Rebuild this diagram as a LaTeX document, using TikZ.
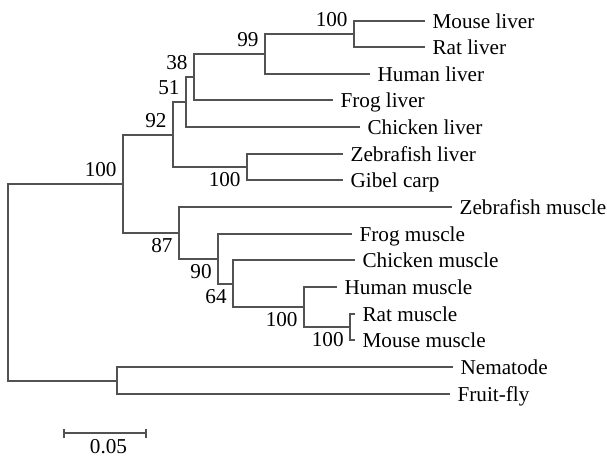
\documentclass[tikz,border=0pt]{standalone}
\usepackage{fontspec}
\setmainfont{Liberation Serif}
\usetikzlibrary{arrows.meta}
\tikzset{
    branch/.style={draw=black!68, line width=1pt},
    leaf/.style={anchor=west, inner xsep=3.6pt, inner ysep=0pt, text height=7pt, text depth=0pt, font=\fontsize{10.6}{12}\selectfont},
    bootup/.style={anchor=south east, inner xsep=3pt, inner ysep=3.5pt, font=\fontsize{10.6}{12}\selectfont},
    bootdown/.style={anchor=north east, inner xsep=3pt, inner ysep=2.5pt, font=\fontsize{10.6}{12}\selectfont},
    scalebar/.style={draw=black!68, line width=1pt, {Bar[width=4.5pt]}-{Bar[width=4.5pt]}},
    }

\begin{document}
\begin{tikzpicture}[x=0.5pt, y=-0.5pt]
    \useasboundingbox (0,0) rectangle (607,457);

    % inner nodes
    \coordinate (root) at (8,282.5);
    \coordinate (nA)   at (123,184);
    \coordinate (n92)  at (173,135);
    \coordinate (n51)  at (186,102);
    \coordinate (n38)  at (194,77);
    \coordinate (n99)  at (265,54);
    \coordinate (nML)  at (354,34);
    \coordinate (nZL)  at (247,167);
    \coordinate (n87)  at (179,233);
    \coordinate (n90)  at (218,259);
    \coordinate (n64)  at (233,284);
    \coordinate (nHM)  at (304,307);
    \coordinate (nRM)  at (350,327);
    \coordinate (nOut) at (117,381);

    % leaves
    \node[leaf] (mouseL)   at (425,21)  {Mouse liver};
    \node[leaf] (ratL)     at (425,47)  {Rat liver};
    \node[leaf] (humanL)   at (370,74)  {Human liver};
    \node[leaf] (frogL)    at (333,100) {Frog liver};
    \node[leaf] (chickenL) at (360,127) {Chicken liver};
    \node[leaf] (zebraL)   at (343,154) {Zebrafish liver};
    \node[leaf] (gibel)    at (343,180) {Gibel carp};
    \node[leaf] (zebraM)   at (452,207) {Zebrafish muscle};
    \node[leaf] (frogM)    at (352,234) {Frog muscle};
    \node[leaf] (chickenM) at (355,260) {Chicken muscle};
    \node[leaf] (humanM)   at (337,287) {Human muscle};
    \node[leaf] (ratM)     at (355,314) {Rat muscle};
    \node[leaf] (mouseM)   at (355,340) {Mouse muscle};
    \node[leaf] (nema)     at (453,367) {Nematode};
    \node[leaf] (fly)      at (450,394) {Fruit-fly};

    % branches
    \draw[branch] (root) |- (nA);
    \draw[branch] (root) |- (nOut);
    \draw[branch] (nA) |- (n92);
    \draw[branch] (nA) |- (n87);
    \draw[branch] (n92) |- (n51);
    \draw[branch] (n92) |- (nZL);
    \draw[branch] (n51) |- (n38);
    \draw[branch] (n51) |- (chickenL.west);
    \draw[branch] (n38) |- (n99);
    \draw[branch] (n38) |- (frogL.west);
    \draw[branch] (n99) |- (nML);
    \draw[branch] (n99) |- (humanL.west);
    \draw[branch] (nML) |- (mouseL.west);
    \draw[branch] (nML) |- (ratL.west);
    \draw[branch] (nZL) |- (zebraL.west);
    \draw[branch] (nZL) |- (gibel.west);
    \draw[branch] (n87) |- (zebraM.west);
    \draw[branch] (n87) |- (n90);
    \draw[branch] (n90) |- (frogM.west);
    \draw[branch] (n90) |- (n64);
    \draw[branch] (n64) |- (chickenM.west);
    \draw[branch] (n64) |- (nHM);
    \draw[branch] (nHM) |- (humanM.west);
    \draw[branch] (nHM) |- (nRM);
    \draw[branch] (nRM) |- (ratM.west);
    \draw[branch] (nRM) |- (mouseM.west);
    \draw[branch] (nOut) |- (nema.west);
    \draw[branch] (nOut) |- (fly.west);

    % bootstrap values
    \node[bootup] (bA)    at (nA)  {100};
    \node[bootup] (b92)   at (n92) {92};
    \node[bootup] (b51)   at (n51) {51};
    \node[bootup] (b38)   at (n38) {38};
    \node[bootup] (b99)   at (n99) {99};
    \node[bootup] (bML)   at (nML) {100};
    \node[bootdown] (bZL) at (nZL) {100};
    \node[bootdown] (b87) at (n87) {87};
    \node[bootdown] (b90) at (n90) {90};
    \node[bootdown] (b64) at (n64) {64};
    \node[bootdown] (bHM) at (nHM) {100};
    \node[bootdown] (bRM) at (nRM) {100};

    % scale bar
    \coordinate (sb0) at (63,433);
    \coordinate (sb1) at (147,433);
    \draw[scalebar] (sb0) -- (sb1);
    \node[leaf, anchor=center] (sblab) at (108.5,446) {0.05};
\end{tikzpicture}
\end{document}
